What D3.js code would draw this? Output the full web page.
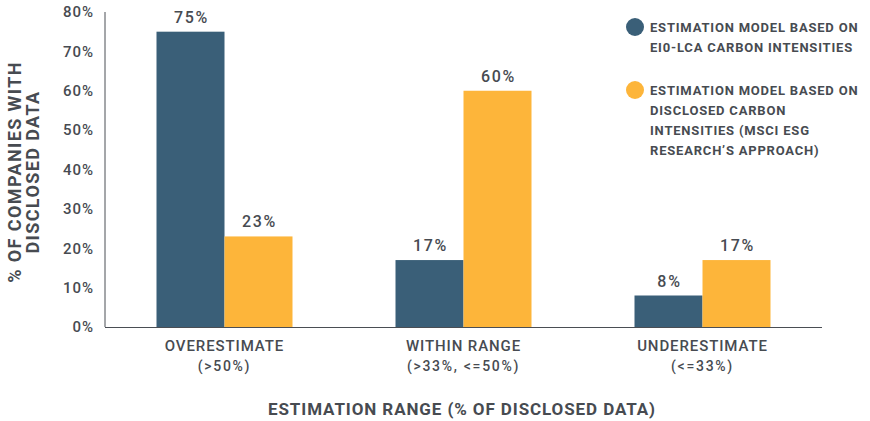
<!DOCTYPE html>
<html>
<head>
<meta charset="utf-8">
<script src="https://cdn.jsdelivr.net/npm/d3@7"></script>
<style>
  body { margin: 0; background: #fff; }
  text { font-family: Roboto, "DejaVu Sans", sans-serif; fill: #474b51; }
</style>
</head>
<body>
<div id="chart"></div>
<script>
var categories = ['OVERESTIMATE', 'WITHIN RANGE', 'UNDERESTIMATE'];
var subLabels = ['(>50%)', '(>33%, <=50%)', '(<=33%)'];
var seriesNames = ['EIO-LCA', 'Disclosed'];
var eioValues = [75, 17, 8];
var disclosedValues = [23, 60, 17];
var yTicks = [0, 10, 20, 30, 40, 50, 60, 70, 80];
var legendLines = [
  ['ESTIMATION MODEL BASED ON', 'EI0-LCA CARBON INTENSITIES'],
  ['ESTIMATION MODEL BASED ON', 'DISCLOSED CARBON', 'INTENSITIES (MSCI ESG', 'RESEARCH\u2019S APPROACH)']
];
var colors = ['#3a5f78', '#fdb53a'];

var W = 870, H = 421;
var svg = d3.select('#chart').append('svg').attr('width', W).attr('height', H);

// one band per category, bars sit in the middle of each band
var x = d3.scaleBand().domain(categories).range([105, 822]);
var barW = 68;
var x1 = d3.scaleBand().domain(seriesNames).range([-barW, barW]);
var y = d3.scaleLinear().domain([0, 80]).range([327, 12]);

function cx(c){ return x(c) + x.bandwidth() / 2; }

// y axis line
svg.append('line').attr('x1', 105).attr('x2', 105).attr('y1', 12).attr('y2', 327)
  .attr('stroke', '#4a4e54').attr('stroke-width', 1);

// y tick labels
svg.selectAll('text.ytick').data(yTicks).enter().append('text')
  .attr('class', 'ytick')
  .attr('x', 94).attr('y', function(d){ return y(d); })
  .attr('dy', '0.35em')
  .attr('text-anchor', 'end')
  .style('font-size', '15px').style('font-weight', 500).style('letter-spacing', '1px')
  .text(function(d){ return d + '%'; });

var data = [];
categories.forEach(function(c, i){
  data.push({cat: c, s: seriesNames[0], v: eioValues[i]});
  data.push({cat: c, s: seriesNames[1], v: disclosedValues[i]});
});

svg.selectAll('rect.bar').data(data).enter().append('rect')
  .attr('class', 'bar')
  .attr('x', function(d){ return cx(d.cat) + x1(d.s); })
  .attr('width', x1.bandwidth())
  .attr('y', function(d){ return y(d.v); })
  .attr('height', function(d){ return y(0) - y(d.v); })
  .attr('fill', function(d, i){ return colors[i % 2]; });

svg.selectAll('text.val').data(data).enter().append('text')
  .attr('class', 'val')
  .attr('x', function(d){ return cx(d.cat) + x1(d.s) + x1.bandwidth() / 2 + 1; })
  .attr('y', function(d){ return y(d.v) - 9; })
  .attr('text-anchor', 'middle')
  .style('font-size', '16px').style('font-weight', 500).style('letter-spacing', '1.7px')
  .text(function(d){ return d.v + '%'; });

// baseline
svg.append('line').attr('x1', 105).attr('x2', 822).attr('y1', 327.5).attr('y2', 327.5)
  .attr('stroke', '#4a4e54').attr('stroke-width', 1);

// category labels
categories.forEach(function(c, i){
  svg.append('text').attr('x', cx(c)).attr('y', 351).attr('text-anchor', 'middle')
    .style('font-size', '15px').style('font-weight', 500).style('letter-spacing', '0.9px')
    .text(c);
  svg.append('text').attr('x', cx(c)).attr('y', 371).attr('text-anchor', 'middle')
    .style('font-size', '14px').style('font-weight', 500).style('letter-spacing', '1.7px')
    .text(subLabels[i]);
});

// x title
svg.append('text').attr('x', 462).attr('y', 415).attr('text-anchor', 'middle')
  .style('font-size', '17px').style('font-weight', 700).style('letter-spacing', '0.9px')
  .text('ESTIMATION RANGE (% OF DISCLOSED DATA)');

// y title
var yt = svg.append('text').attr('transform', 'translate(21,172) rotate(-90)')
  .attr('text-anchor', 'middle')
  .style('font-size', '18px').style('font-weight', 700).style('letter-spacing', '1.4px');
yt.append('tspan').attr('x', 0).attr('y', 0).text('% OF COMPANIES WITH');
yt.append('tspan').attr('x', 0).attr('y', 18).text('DISCLOSED DATA');

// legend
var legendY = [27, 90];
legendLines.forEach(function(lines, i){
  svg.append('circle').attr('cx', 635).attr('cy', legendY[i]).attr('r', 9).attr('fill', colors[i]);
  lines.forEach(function(l, j){
    svg.append('text').attr('x', 650).attr('y', legendY[i] + j * 20).attr('dy', '0.35em')
      .style('font-size', '13px').style('font-weight', 700).style('letter-spacing', '0.8px')
      .text(l);
  });
});
</script>
</body>
</html>
